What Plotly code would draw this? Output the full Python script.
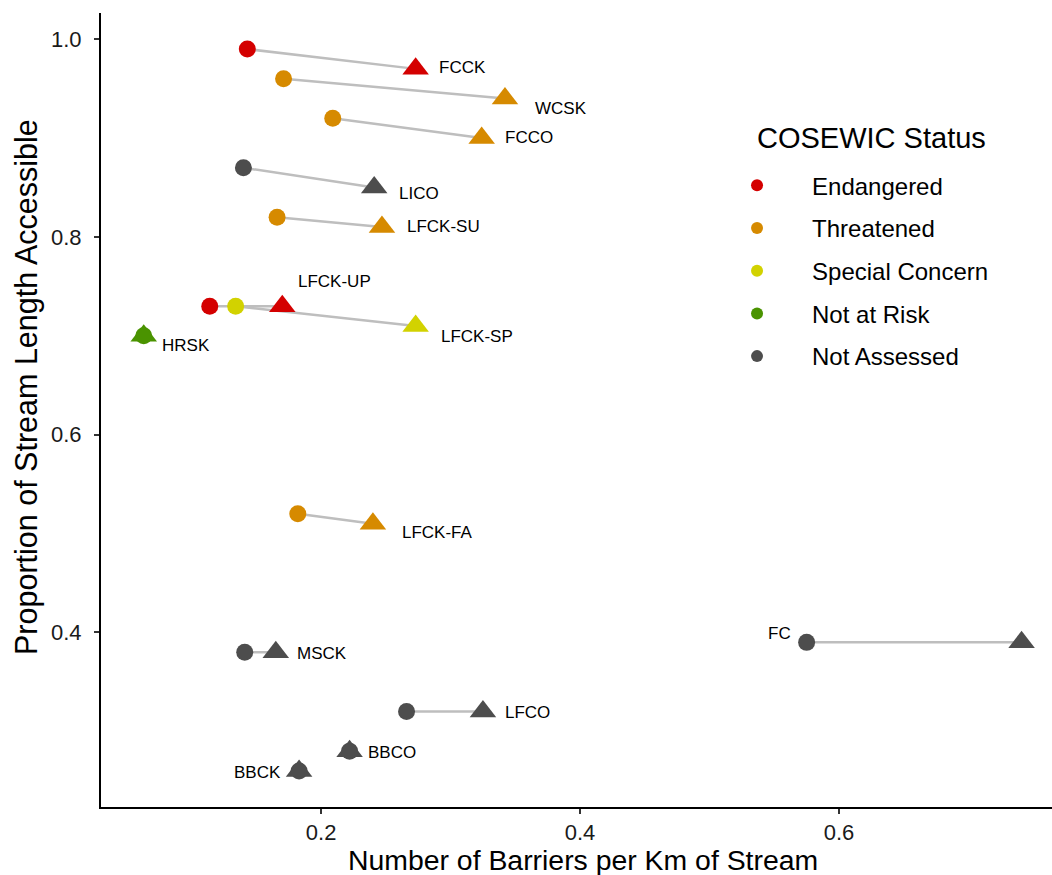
import plotly.graph_objects as go

# ---- data ----
streams = ["FCCK", "WCSK", "FCCO", "LICO", "LFCK-SU", "LFCK-UP", "LFCK-SP", "HRSK",
           "LFCK-FA", "MSCK", "FC", "LFCO", "BBCO", "BBCK"]
status = ["Endangered", "Threatened", "Threatened", "Not Assessed", "Threatened", "Endangered",
          "Special Concern", "Not at Risk", "Threatened", "Not Assessed", "Not Assessed",
          "Not Assessed", "Not Assessed", "Not Assessed"]
barriers_before = [0.143, 0.171, 0.209, 0.140, 0.166, 0.114, 0.134, 0.063, 0.182, 0.141, 0.575, 0.266, 0.222, 0.183]
access_before = [0.99, 0.96, 0.92, 0.87, 0.82, 0.73, 0.73, 0.70, 0.52, 0.38, 0.39, 0.32, 0.28, 0.26]
barriers_after = [0.273, 0.342, 0.324, 0.241, 0.247, 0.170, 0.273, 0.063, 0.240, 0.165, 0.741, 0.325, 0.222, 0.183]
access_after = [0.97, 0.94, 0.90, 0.85, 0.81, 0.73, 0.71, 0.70, 0.51, 0.38, 0.39, 0.32, 0.28, 0.26]

status_levels = ["Endangered", "Threatened", "Special Concern", "Not at Risk", "Not Assessed"]
x_ticks = [0.2, 0.4, 0.6]
y_ticks = [0.4, 0.6, 0.8, 1.0]

# ---- styles (label offsets in pixels relative to their anchor point) ----
colors = {"Endangered": "#D40000", "Threatened": "#D68A00", "Special Concern": "#D2D200",
          "Not at Risk": "#4A9300", "Not Assessed": "#4D4D4D"}
label_anchor = ["end"] * len(streams)
label_anchor[streams.index("FC")] = "start"
label_shift = {"FCCK": (47, 1), "WCSK": (56, -10), "FCCO": (47, 1), "LICO": (45, -6),
               "LFCK-SU": (62, 1), "LFCK-UP": (52, 25), "LFCK-SP": (61, -11), "HRSK": (42, -10),
               "LFCK-FA": (65, -9), "MSCK": (46, -1), "FC": (-27, 9), "LFCO": (45, -1),
               "BBCO": (42, -1), "BBCK": (-42, -2)}

FONT = "Liberation Sans, Arial, sans-serif"

fig = go.Figure()

# segments
sx, sy = [], []
for i in range(len(streams)):
    sx += [barriers_before[i], barriers_after[i], None]
    sy += [access_before[i], access_after[i], None]
fig.add_trace(go.Scatter(x=sx, y=sy, mode="lines", line=dict(color="#BEBEBE", width=2.5),
                         showlegend=False, hoverinfo="skip"))

# circles (before)
for lvl in status_levels:
    idx = [i for i, s in enumerate(status) if s == lvl]
    fig.add_trace(go.Scatter(
        x=[barriers_before[i] for i in idx], y=[access_before[i] for i in idx],
        mode="markers", name=lvl, legendgroup=lvl,
        marker=dict(symbol="circle", size=17, color=colors[lvl], line=dict(width=0)),
        text=[streams[i] for i in idx]))

# triangles (after)
for lvl in status_levels:
    idx = [i for i, s in enumerate(status) if s == lvl]
    fig.add_trace(go.Scatter(
        x=[barriers_after[i] for i in idx], y=[access_after[i] for i in idx],
        mode="markers", name=lvl, legendgroup=lvl, showlegend=False,
        marker=dict(symbol="triangle-up", size=23, color=colors[lvl], line=dict(width=0)),
        text=[streams[i] for i in idx]))

# labels
for i, s in enumerate(streams):
    if label_anchor[i] == "end":
        ax, ay = barriers_after[i], access_after[i]
    else:
        ax, ay = barriers_before[i], access_before[i]
    dx, dy = label_shift[s]
    fig.add_annotation(x=ax, y=ay, text=s, showarrow=False, xshift=dx, yshift=dy,
                       font=dict(family=FONT, size=17, color="#000000"))

# legend title
fig.add_annotation(xref="paper", yref="paper", x=0.6877, y=0.8426, xanchor="left", yanchor="middle",
                   text="COSEWIC Status", showarrow=False,
                   font=dict(family=FONT, size=29, color="#000000"))

# axis titles
fig.add_annotation(xref="paper", yref="paper", x=0.5068, y=-0.0670, xanchor="center", yanchor="middle",
                   text="Number of Barriers per Km of Stream", showarrow=False,
                   font=dict(family=FONT, size=28.4, color="#000000"))
fig.add_annotation(xref="paper", yref="paper", x=-0.0778, y=0.529, xanchor="center", yanchor="middle",
                   text="Proportion of Stream Length Accessible", showarrow=False, textangle=-90,
                   font=dict(family=FONT, size=30.5, color="#000000"))

axis_common = dict(showgrid=False, zeroline=False, showline=True, linecolor="#000000",
                   linewidth=2, ticks="outside", ticklen=5, tickwidth=1.5, tickcolor="#333333",
                   tickfont=dict(family=FONT, size=22, color="#1a1a1a"), mirror=False)

fig.update_layout(
    width=1052, height=875,
    margin=dict(l=101, r=0, t=13, b=68, autoexpand=False),
    paper_bgcolor="white", plot_bgcolor="white",
    xaxis=dict(range=[0.030, 0.7645], tickvals=x_ticks, ticktext=["0.2", "0.4", "0.6"],
               ticklabelstandoff=0, **axis_common),
    yaxis=dict(range=[0.2235, 1.0265], tickvals=y_ticks, ticktext=["0.4", "0.6", "0.8", "1.0"],
               ticklabelstandoff=8, **axis_common),
    legend=dict(x=0.632, y=0.8108, xanchor="left", yanchor="top",
                font=dict(family=FONT, size=24, color="#000000"),
                itemsizing="constant", tracegroupgap=8.5, itemwidth=100,
                bgcolor="rgba(0,0,0,0)"),
    showlegend=True,
)

fig.write_html("out.html", config={"displayModeBar": False},
               post_script="document.body.style.margin='0';")
